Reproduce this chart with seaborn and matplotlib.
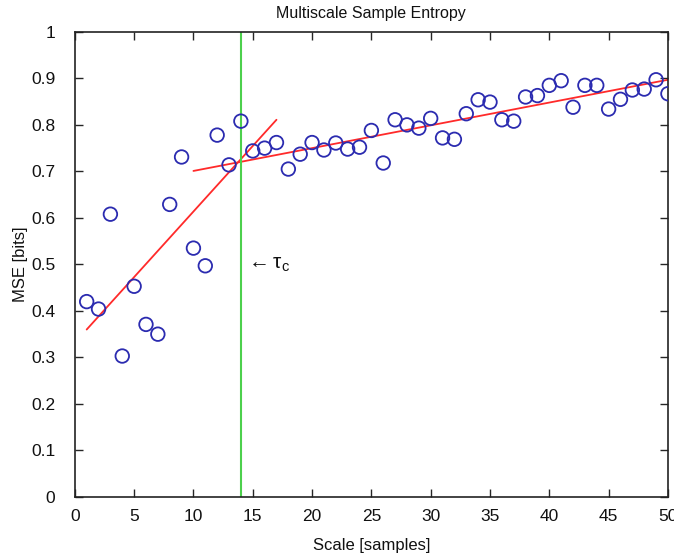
import numpy as np
import pandas as pd
import matplotlib
matplotlib.use('Agg')
import matplotlib.pyplot as plt
import seaborn as sns

# Multiscale sample entropy values
scale = list(range(1, 51))
mse = [0.420, 0.404, 0.608, 0.303, 0.453, 0.371, 0.350, 0.629, 0.731, 0.535,
       0.497, 0.778, 0.714, 0.808, 0.744, 0.750, 0.762, 0.705, 0.737, 0.762,
       0.746, 0.761, 0.748, 0.752, 0.788, 0.718, 0.811, 0.800, 0.793, 0.814,
       0.772, 0.769, 0.824, 0.854, 0.849, 0.811, 0.808, 0.860, 0.863, 0.885,
       0.895, 0.838, 0.885, 0.885, 0.834, 0.855, 0.875, 0.877, 0.897, 0.867]

# linear fits (endpoints)
fit_left_x = [1, 17]
fit_left_y = [0.360, 0.811]
fit_right_x = [10, 50]
fit_right_y = [0.701, 0.897]

tau_c = 14

sns.set_style('ticks')
plt.rcParams['font.family'] = ['Liberation Sans', 'DejaVu Sans']
plt.rcParams['mathtext.fontset'] = 'custom'
plt.rcParams['mathtext.it'] = 'Liberation Sans:italic'
plt.rcParams['mathtext.rm'] = 'Liberation Sans'

df = pd.DataFrame({'Scale': scale, 'MSE': mse})

fig = plt.figure(figsize=(6.74, 5.59), dpi=100)
ax = fig.add_axes([0.111, 0.111, 0.880, 0.832])

sns.lineplot(x=fit_left_x, y=fit_left_y, color='#ff2a2a', linewidth=1.3, ax=ax)
sns.lineplot(x=fit_right_x, y=fit_right_y, color='#ff2a2a', linewidth=1.3, ax=ax)
sns.scatterplot(data=df, x='Scale', y='MSE', marker='o', s=95, facecolors='none',
                edgecolor='#2b2bb0', linewidth=1.3, ax=ax, zorder=3)
ax.axvline(tau_c, color='#4cd04c', linewidth=1.5, zorder=2)
ax.text(tau_c + 0.35, 0.5, r'$\leftarrow\mathrm{\tau_c}$', fontsize=15, va='center',
        ha='left', color='#111111')

ax.set_xlim(0, 50)
ax.set_ylim(0, 1)
ax.set_xticks(np.arange(0, 51, 5))
ax.set_yticks(np.arange(0, 1.01, 0.1))
ax.set_yticklabels(['0', '0.1', '0.2', '0.3', '0.4', '0.5', '0.6', '0.7', '0.8', '0.9', '1'])
ax.tick_params(direction='in', length=6, width=1, labelsize=12.5, top=True, right=True,
               labelcolor='#111111')
ax.tick_params(axis='y', pad=14)
ax.tick_params(axis='x', pad=9)
for sp in ax.spines.values():
    sp.set_visible(True)
    sp.set_linewidth(1.2)
    sp.set_color('#222222')

ax.set_title('Multiscale Sample Entropy', fontsize=11.5, pad=10, color='#111111')
ax.set_xlabel('Scale [samples]', fontsize=12, labelpad=10, color='#111111')
ax.set_ylabel('MSE [bits]', fontsize=12, labelpad=2, color='#111111')

fig.savefig('out.png', dpi=100)
